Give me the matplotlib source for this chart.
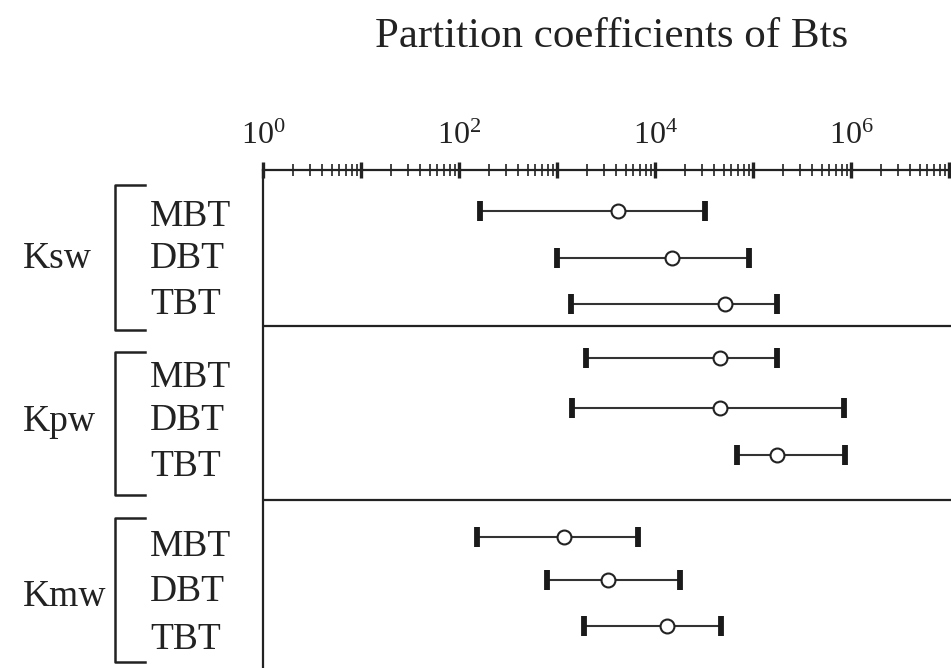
import numpy as np
import matplotlib
matplotlib.use("Agg")
import matplotlib.pyplot as plt
import matplotlib.ticker as mticker
import matplotlib.transforms as mtransforms

plt.rcParams['font.family'] = ['Liberation Serif', 'DejaVu Serif']
plt.rcParams['mathtext.fontset'] = 'custom'
plt.rcParams['mathtext.rm'] = 'Liberation Serif'

# partition coefficients (L/kg): lower bound, typical value, upper bound
groups = ['Ksw', 'Kpw', 'Kmw']
compounds = ['MBT', 'DBT', 'TBT']
k_low = [[164, 1000, 1400],
         [1960, 1430, 69000],
         [154, 785, 1890]]
k_mid = [[4200, 14800, 52000],
         [46000, 46000, 177000],
         [1180, 3340, 13150]]
k_high = [[32000, 91000, 175000],
          [177000, 850000, 870000],
          [6650, 18000, 46900]]

# vertical layout (pixel rows measured from the top of the figure)
bar_rows = [[211, 258, 304], [358, 408, 455], [537, 580, 626]]
text_rows = [[217, 259, 305], [378, 421, 467], [547, 592, 640]]
group_rows = [259, 422, 597]
brackets = [(185, 330), (352, 495), (518, 662)]
separators = [326, 500]

ink = '#222222'
W, H = 951, 668
fig = plt.figure(figsize=(W / 100, H / 100), dpi=100)
ax = fig.add_axes([263 / W, 0, 1 - 263 / W, (H - 170) / H])
ax.set_xscale('log')
ax.set_xlim(1, 10 ** 7.02)
ax.set_ylim(H, 170)

for g in range(len(groups)):
    for i in range(len(compounds)):
        lo, mid, hi = k_low[g][i], k_mid[g][i], k_high[g][i]
        y = bar_rows[g][i]
        ax.errorbar(mid, y, xerr=[[mid - lo], [hi - mid]],
                    fmt='o', ms=10, mfc='white', mec=ink, mew=1.5,
                    ecolor='#333333', elinewidth=1.5, capsize=0, zorder=3)
        # heavy end caps
        ax.plot([lo, hi], [y, y], ls='none', marker='|', ms=14.5, mew=4.2,
                color='#1a1a1a', zorder=4)

for y in separators:
    ax.axhline(y, color=ink, lw=1.6)

# axis on top, log ticks
ax.xaxis.tick_top()
ax.xaxis.set_major_locator(mticker.LogLocator(base=10, numticks=20))
ax.xaxis.set_minor_locator(mticker.LogLocator(base=10, subs=np.arange(2, 10), numticks=20))


def decade_label(v, pos):
    e = int(round(np.log10(v)))
    return r'$\mathregular{10^{%d}}$' % e if e % 2 == 0 else ''


ax.xaxis.set_major_formatter(mticker.FuncFormatter(decade_label))
ax.xaxis.set_minor_formatter(mticker.NullFormatter())
ax.tick_params(axis='x', which='major', direction='inout', length=11, width=2.4,
               color=ink, labelsize=23, pad=8, labelcolor=ink)
ax.tick_params(axis='x', which='minor', direction='inout', length=9, width=1.2, color=ink)
ax.set_yticks([])
for side in ['right', 'bottom']:
    ax.spines[side].set_visible(False)
for side in ['top', 'left']:
    ax.spines[side].set_linewidth(1.6)
    ax.spines[side].set_color(ink)

# row labels and brackets left of the frame
trans = mtransforms.blended_transform_factory(fig.transFigure, ax.transData)
for g, name in enumerate(groups):
    ax.text(23 / W, group_rows[g], name, transform=trans, fontsize=27,
            color=ink, va='center', ha='left', clip_on=False)
    for i, comp in enumerate(compounds):
        ax.text(150 / W, text_rows[g][i], comp, transform=trans, fontsize=27,
                color=ink, va='center', ha='left', clip_on=False)
    top, bot = brackets[g]
    ax.plot([145 / W, 115 / W, 115 / W, 145 / W], [top, top, bot, bot],
            transform=trans, color=ink, lw=1.8, clip_on=False)

fig.text(612 / W, 1 - 47 / H, 'Partition coefficients of Bts', fontsize=31,
         color=ink, ha='center', va='baseline')

fig.savefig('out.png', dpi=100)
